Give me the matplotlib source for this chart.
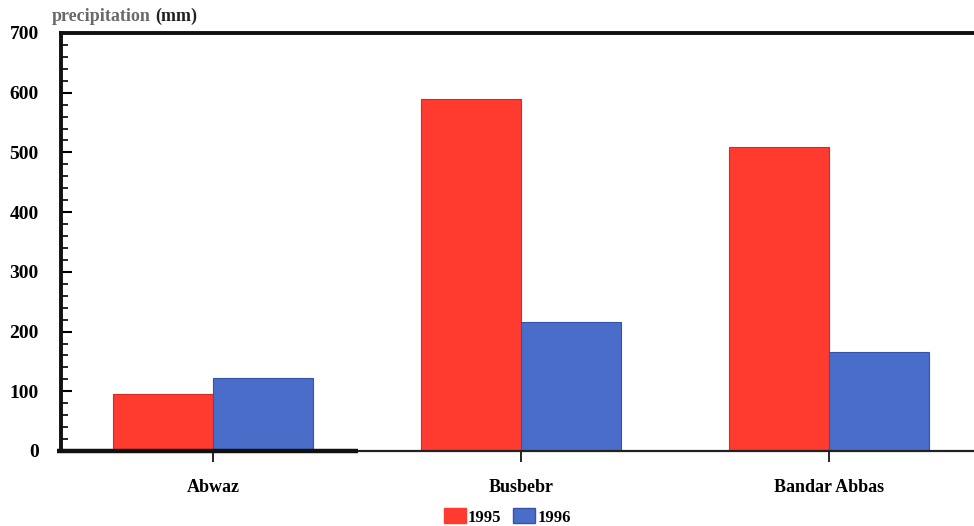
import matplotlib
matplotlib.use("Agg")
import matplotlib.pyplot as plt
import numpy as np
from matplotlib.ticker import MultipleLocator
from matplotlib.patches import Patch

cities = ["Abwaz", "Busbebr", "Bandar Abbas"]
precip_1995 = [95, 590, 509]
precip_1996 = [122, 216, 166]
series_labels = ["1995", "1996"]
y_ticks = [0, 100, 200, 300, 400, 500, 600, 700]

red = "#ff3b30"
blue = "#4a6dc9"

fig = plt.figure(figsize=(9.74, 5.26), dpi=100)
ax = fig.add_axes([0.0626, 0.1426, 0.9374, 0.7947])

x = np.arange(len(cities))
w = 0.325
ax.bar(x - w / 2, precip_1995, width=w, color=red, edgecolor="#d62a20", linewidth=0.8)
ax.bar(x + w / 2, precip_1996, width=w, color=blue, edgecolor="#3553a8", linewidth=0.8)

ax.set_xlim(-0.493, 2.47)
ax.set_ylim(0, 700)
ax.set_yticks(y_ticks)
ax.yaxis.set_minor_locator(MultipleLocator(20))
ax.set_xticks(x)
ax.set_xticklabels(cities)

serif = ["Liberation Serif", "DejaVu Serif"]
for lbl in ax.get_yticklabels():
    lbl.set_fontfamily(serif)
    lbl.set_fontweight("bold")
    lbl.set_fontsize(14)
for lbl in ax.get_xticklabels():
    lbl.set_fontfamily(serif)
    lbl.set_fontweight("bold")
    lbl.set_fontsize(13)

ax.tick_params(axis="y", which="major", direction="in", length=8, width=1.5, pad=16)
ax.tick_params(axis="y", which="minor", direction="in", length=5, width=1.2)
ax.tick_params(axis="x", which="major", direction="out", length=8, width=1.2, pad=12)

for side in ["left", "top"]:
    ax.spines[side].set_linewidth(2.8)
    ax.spines[side].set_color("#111111")
ax.spines["bottom"].set_linewidth(1.6)
ax.spines["bottom"].set_color("#222222")
ax.spines["right"].set_visible(False)
# heavier stroke along the left part of the baseline
ax.plot([-0.004, 0.325], [0, 0], transform=ax.transAxes, color="#111111",
        linewidth=3.2, clip_on=False, solid_capstyle="butt", zorder=5)

fig.text(0.053, 0.953, "precipitation", fontsize=13, family=serif,
         fontweight="bold", color="#6a6a6a", va="bottom")
fig.text(0.159, 0.953, "(mm)", fontsize=13, family=serif,
         fontweight="bold", color="#222222", va="bottom")

handles = [Patch(facecolor=red, edgecolor=red), Patch(facecolor=blue, edgecolor="#3553a8")]
fig.legend(handles, series_labels, loc="center", bbox_to_anchor=(0.521, 0.017),
           ncol=2, frameon=False, handlelength=1.3, handleheight=1.0,
           handletextpad=0.15, columnspacing=0.7,
           prop={"family": serif, "weight": "bold", "size": 12})

fig.savefig("out.png", dpi=100)
